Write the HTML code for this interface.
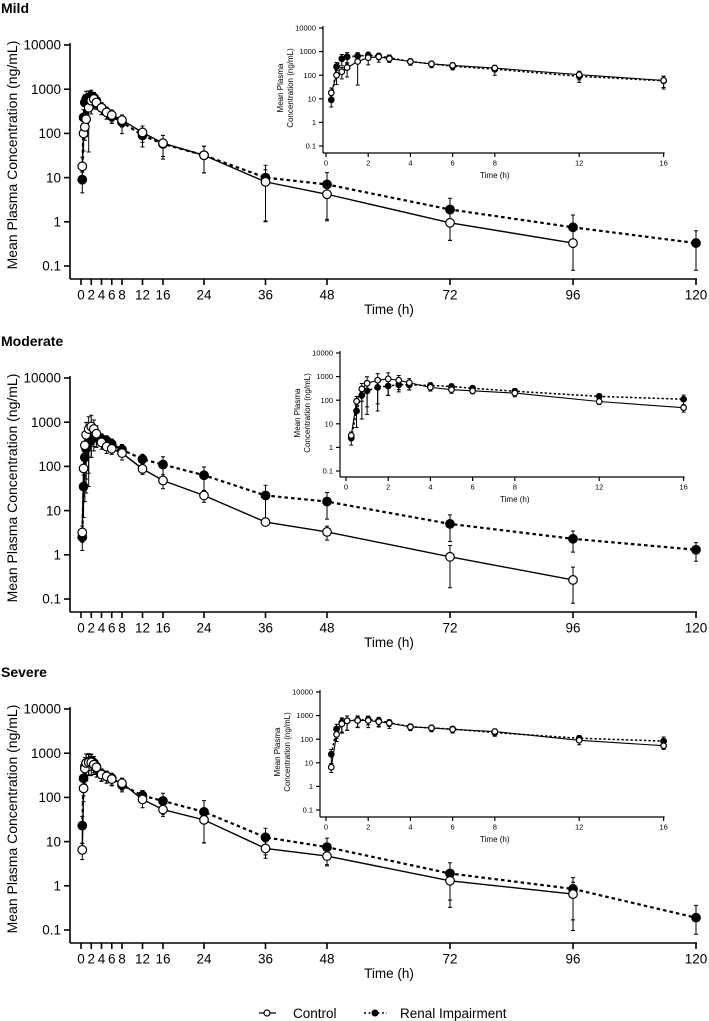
<!DOCTYPE html>
<html><head><meta charset="utf-8"><style>
body{margin:0;background:#fff;}
svg{display:block;font-family:"Liberation Sans",Arial,sans-serif;}
</style></head><body>
<svg id="chart" width="709" height="1021" viewBox="0 0 709 1021" xmlns="http://www.w3.org/2000/svg"></svg>
<script>
const times = [0.25,0.5,0.75,1,1.5,2,2.5,3,4,5,6,8,12,16,24,36,48,72,96,120];
const mainTicks = [0,2,4,6,8,12,16,24,36,48,72,96,120];
const insetTicks = [0,2,4,6,8,12,16];
const yTickVals = [0.1,1,10,100,1000,10000];
const yTickLabels = ["0.1","1","10","100","1000","10000"];
const panelNames = ["Mild","Moderate","Severe"];
const mildControl = [18,100,140,210,380,550,600,500,380,300,260,200,105,60,32,8,4.2,0.95,0.33,null];
const mildRenal = [9,230,500,600,650,700,650,550,380,300,240,180,90,58,32,10,7,1.9,0.75,0.33];
const modControl = [3.2,90,300,520,700,800,700,550,350,280,250,200,88,48,22,5.5,3.3,0.9,0.27,null];
const modRenal = [2.5,35,160,250,350,400,450,450,420,380,320,240,145,110,63,22,16,5,2.3,1.3];
const sevControl = [6.5,160,450,600,620,620,550,480,330,300,260,210,90,53,31,7,4.7,1.3,0.65,null];
const sevRenal = [23,270,500,600,650,680,600,500,340,300,270,190,110,83,47,12.5,7.5,1.9,0.85,0.19];
const mildControlCV = [0.6,0.6,0.5,0.6,0.9,0.5,0.4,0.3,0.3,0.3,0.3,0.3,0.4,0.5,0.6,0.87,0.73,0.6,0.2,0];
const mildRenalCV = [0.5,0.5,0.5,0.5,0.4,0.35,0.3,0.3,0.3,0.3,0.3,0.45,0.45,0.55,0.6,0.9,0.85,0.8,0.9,0.9];
const modControlCV = [0.4,0.6,0.7,0.9,0.9,0.8,0.6,0.5,0.3,0.3,0.25,0.3,0.25,0.35,0.3,0.15,0.35,0.8,0.95,0];
const modRenalCV = [0.5,0.8,0.9,0.9,0.9,0.6,0.5,0.4,0.3,0.3,0.3,0.3,0.3,0.5,0.55,0.7,0.6,0.6,0.5,0.45];
const sevControlCV = [0.4,0.5,0.6,0.6,0.5,0.5,0.4,0.4,0.3,0.3,0.3,0.3,0.35,0.3,0.7,0.4,0.4,0.75,0.85,0];
const sevRenalCV = [0.6,0.6,0.6,0.6,0.5,0.4,0.4,0.3,0.3,0.3,0.3,0.3,0.3,0.5,0.8,0.6,0.6,0.75,0.8,0.9];

const NS="http://www.w3.org/2000/svg";
const svg=document.getElementById('chart');
function mk(tag,attrs,parent){const e=document.createElementNS(NS,tag);for(const k in attrs)e.setAttribute(k,attrs[k]);(parent||svg).appendChild(e);return e;}
function txt(s,attrs,parent){const e=mk('text',attrs,parent);e.textContent=s;return e;}

const panels=[
 {off:0,c:mildControl,r:mildRenal,cc:mildControlCV,rc:mildRenalCV,ins:{ax:323,x0:326,top:28,bot:153}},
 {off:333,c:modControl,r:modRenal,cc:modControlCV,rc:modRenalCV,ins:{ax:340,x0:346,top:20,bot:144}},
 {off:664,c:sevControl,r:sevRenal,cc:sevControlCV,rc:sevRenalCV,ins:{ax:320,x0:326,top:28,bot:153}}
];

function drawAxes(g,o){
  const yS=v=>o.top+(4-Math.log10(v))*o.dec;
  const xS=t=>o.x0+t*o.pxh;
  const ya=mk('line',{x1:o.ax,y1:yS(10000)-2,x2:o.ax,y2:o.bot,stroke:'#000','stroke-width':o.sw},g);
  
  const xa=mk('line',{x1:o.ax,y1:o.bot,x2:xS(o.tmax)+1,y2:o.bot,stroke:'#000','stroke-width':o.sw},g);
  
  yTickVals.forEach((v,i)=>{
    mk('line',{x1:o.ax-o.tlen,y1:yS(v),x2:o.ax,y2:yS(v),stroke:'#000','stroke-width':o.sw},g);
    const t=txt(yTickLabels[i],{x:o.ax-o.tlen-3,y:yS(v)+o.fs*0.35,'font-size':o.fs,'text-anchor':'end'},g);
    
  });
  o.ticks.forEach(v=>{
    mk('line',{x1:xS(v),y1:o.bot,x2:xS(v),y2:o.bot+o.tlen,stroke:'#000','stroke-width':o.sw},g);
    const t=txt(String(v),{x:xS(v),y:o.bot+o.tlen+o.fs+1,'font-size':o.fs,'text-anchor':'middle'},g);
    
  });
  return {xS,yS};
}
function drawSeries(g,s,vals,cv,filled,tmax,r,sw,name){
  const pts=[];
  vals.forEach((v,i)=>{if(v!=null&&times[i]<=tmax)pts.push([s.xS(times[i]),s.yS(v),v,cv[i]]);});
  const sg=mk('g',{},g);
  pts.forEach(p=>{
    const hi=s.yS(p[2]*(1+p[3]));const lo=s.yS(Math.max(p[2]*(1-p[3]),0.08));
    const e=mk('path',{d:`M${p[0]},${hi}V${lo}M${p[0]-2},${hi}h4M${p[0]-2},${lo}h4`,stroke:'#000','stroke-width':1,fill:'none'},sg);
    
  });
  const l=mk('polyline',{points:pts.map(p=>p[0]+','+p[1]).join(' '),fill:'none',stroke:'#000','stroke-width':sw,'stroke-dasharray':filled?(sw*1.6)+','+(sw*1.4):'none'},sg);
  
  pts.forEach(p=>{
    const c=mk('circle',{cx:p[0],cy:p[1],r:r,fill:filled?'#000':'#fff',stroke:'#000','stroke-width':1.2},sg);
    
  });
}

panels.forEach((p,pi)=>{
  const g=mk('g',{});
  const t=txt(panelNames[pi],{x:1,y:p.off+13,'font-size':14,'font-weight':'bold'},g);
  
  const s=drawAxes(g,{ax:70,x0:81,pxh:5.125,top:45+p.off,dec:44.2,bot:279+p.off,tmax:120,ticks:mainTicks,fs:13.5,tlen:6,sw:1.6});
  const yt=txt('Mean Plasma Concentration (ng/mL)',{x:0,y:0,'font-size':14,'text-anchor':'middle',transform:`translate(17,${155+p.off}) rotate(-90)`},g);
  
  const xt=txt('Time (h)',{x:389,y:314+p.off,'font-size':13.5,'text-anchor':'middle'},g);
  
  drawSeries(g,s,p.r,p.rc,true,120,4.3,2.2,'renal-series');
  drawSeries(g,s,p.c,p.cc,false,120,4.3,1.4,'control-series');
  const ig=mk('g',{},g);
  const I=p.ins;
  const si=drawAxes(ig,{ax:I.ax,x0:I.x0,pxh:21.1,top:I.top+p.off,dec:23.6,bot:I.bot+p.off,tmax:16,ticks:insetTicks,fs:7.5,tlen:4,sw:1.2});
  const iy=txt('',{x:0,y:0,'font-size':8,'text-anchor':'middle',transform:`translate(${I.ax-40},${I.top+60+p.off}) rotate(-90)`},ig);
  
  mk('tspan',{x:0,dy:0},iy).textContent='Mean Plasma';
  mk('tspan',{x:0,dy:10},iy).textContent='Concentration (ng/mL)';
  const ix=txt('Time (h)',{x:I.x0+8*21.1,y:I.bot+p.off+25,'font-size':8,'text-anchor':'middle'},ig);
  
  drawSeries(ig,si,p.r,p.rc,true,16,2.8,1.5,'inset-renal-series');
  drawSeries(ig,si,p.c,p.cc,false,16,2.8,1.1,'inset-control-series');
});

const lg=mk('g',{});
const l1=mk('g',{},lg);
mk('line',{x1:259,y1:1013,x2:276,y2:1013,stroke:'#000','stroke-width':1.2},l1);
mk('circle',{cx:267,cy:1013,r:3,fill:'#fff',stroke:'#000','stroke-width':1.2},l1);
txt('Control',{x:293,y:1018,'font-size':13.5},l1);
const l2=mk('g',{},lg);
mk('line',{x1:364,y1:1013,x2:387,y2:1013,stroke:'#000','stroke-width':1.5,'stroke-dasharray':'2,2.5'},l2);
mk('circle',{cx:375,cy:1013,r:3,fill:'#000',stroke:'#000'},l2);
txt('Renal Impairment',{x:400,y:1018,'font-size':13.5},l2);
</script>
</body></html>
